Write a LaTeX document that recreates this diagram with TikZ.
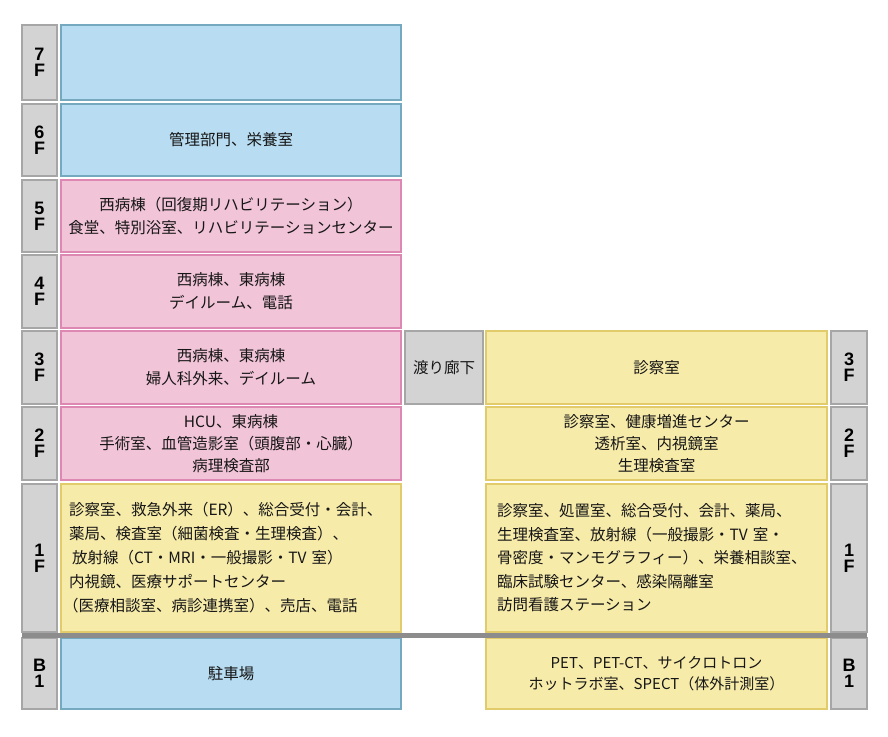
\documentclass[tikz,border=0pt]{standalone}
\usepackage{fontspec}
\setmainfont{Noto Sans CJK JP}
\newfontfamily\flfont{Liberation Sans}
\definecolor{bluefill}{HTML}{B8DCF1}
\definecolor{blueline}{HTML}{74A9BF}
\definecolor{pinkfill}{HTML}{F2C4D8}
\definecolor{pinkline}{HTML}{DC88B2}
\definecolor{yellowfill}{HTML}{F7EBAA}
\definecolor{yellowline}{HTML}{E2CB6A}
\definecolor{grayfill}{HTML}{D3D3D3}
\definecolor{grayline}{HTML}{A6A6A6}
\definecolor{groundgray}{HTML}{8C8C8C}
\definecolor{textgray}{HTML}{161616}
\begin{document}
\begin{tikzpicture}[x=1pt, y=-1pt,
    every node/.style={inner sep=0pt, outer sep=0pt, line width=1.2pt, text=textgray},
    floorlabel/.style={draw=grayline, fill=grayfill, minimum width=35pt, align=center,
        font=\flfont\bfseries\fontsize{18}{16}\selectfont, text=black},
    room/.style={minimum width=340pt, align=center, font=\fontsize{15.5}{23}\selectfont},
    bluebox/.style={room, draw=blueline, fill=bluefill},
    pinkbox/.style={room, draw=pinkline, fill=pinkfill},
    yellowbox/.style={room, draw=yellowline, fill=yellowfill}]
    \useasboundingbox (0,0) rectangle (888,736);
    % west building
    \node[floorlabel, minimum height=75pt] (l7) at (39.5,62.5) {7\\F};
    \node[floorlabel, minimum height=72pt] (l6) at (39.5,140) {6\\F};
    \node[floorlabel, minimum height=72pt] (l5) at (39.5,216) {5\\F};
    \node[floorlabel, minimum height=73pt] (l4) at (39.5,291.5) {4\\F};
    \node[floorlabel, minimum height=73pt] (l3) at (39.5,367.5) {3\\F};
    \node[floorlabel, minimum height=73pt] (l2) at (39.5,443.5) {2\\F};
    \node[floorlabel, minimum height=148pt] (l1) at (39.5,558) {1\\F};
    \node[floorlabel, minimum height=71pt] (lB) at (39.5,673.5) {B\\1};
    \node[bluebox, minimum height=75pt] (w7) at (231,62.5) {};
    \node[bluebox, minimum height=72pt] (w6) at (231,140) {管理部門、栄養室};
    \node[pinkbox, minimum height=72pt] (w5) at (231,216) {西病棟（回復期リハビリテーション）\\食堂、特別浴室、リハビリテーションセンター};
    \node[pinkbox, minimum height=73pt] (w4) at (231,291.5) {西病棟、東病棟\\デイルーム、電話};
    \node[pinkbox, minimum height=73pt] (w3) at (231,367.5) {西病棟、東病棟\\婦人科外来、デイルーム};
    \node[pinkbox, minimum height=73pt, font=\fontsize{15.5}{22}\selectfont] (w2) at (231,443.5) {HCU、東病棟\\手術室、血管造影室（頭腹部・心臓）\\病理検査部};
    \node[yellowbox, minimum height=148pt, text width=324pt, align=left,
        font=\fontsize{15.5}{24}\selectfont] (w1) at (231,558) {診察室、救急外来（ER）、総合受付・会計、\\薬局、検査室（細菌検査・生理検査）、\\\hspace*{3pt}放射線（CT・MRI・一般撮影・TV 室）\\内視鏡、医療サポートセンター\\\hspace*{-6pt}（医療相談室、病診連携室）、売店、電話};
    \node[bluebox, minimum height=71pt] (wB) at (231,673.5) {駐車場};
    % bridge
    \node[floorlabel, minimum width=78pt, minimum height=73pt, font=\fontsize{15.5}{23}\selectfont, text=textgray] (bridge) at (444,367.5) {渡り廊下};
    % east building
    \node[yellowbox, minimum width=341pt, minimum height=73pt] (e3) at (656.5,367.5) {診察室};
    \node[yellowbox, minimum width=341pt, minimum height=73pt, font=\fontsize{15.5}{22}\selectfont] (e2) at (656.5,443.5) {診察室、健康増進センター\\透析室、内視鏡室\\生理検査室};
    \node[yellowbox, minimum width=341pt, minimum height=148pt, text width=319pt, align=left,
        font=\fontsize{15.5}{23.5}\selectfont] (e1) at (656.5,558) {診察室、処置室、総合受付、会計、薬局、\\生理検査室、放射線（一般撮影・TV 室・\\骨密度・マンモグラフィー）、栄養相談室、\\臨床試験センター、感染隔離室\\訪問看護ステーション};
    \node[yellowbox, minimum width=341pt, minimum height=71pt, font=\fontsize{15}{21}\selectfont] (eB) at (656.5,673.5) {PET、PET-CT、サイクロトロン\\ホットラボ室、SPECT（体外計測室）};
    \node[floorlabel, minimum width=36pt, minimum height=73pt] (r3) at (849,367.5) {3\\F};
    \node[floorlabel, minimum width=36pt, minimum height=73pt] (r2) at (849,443.5) {2\\F};
    \node[floorlabel, minimum width=36pt, minimum height=148pt] (r1) at (849,558) {1\\F};
    \node[floorlabel, minimum width=36pt, minimum height=71pt] (rB) at (849,673.5) {B\\1};
    % ground level
    \draw[groundgray, line width=5pt] ([yshift=2.5pt]lB.north west) -- ([yshift=2.5pt]rB.north east);
\end{tikzpicture}
\end{document}
